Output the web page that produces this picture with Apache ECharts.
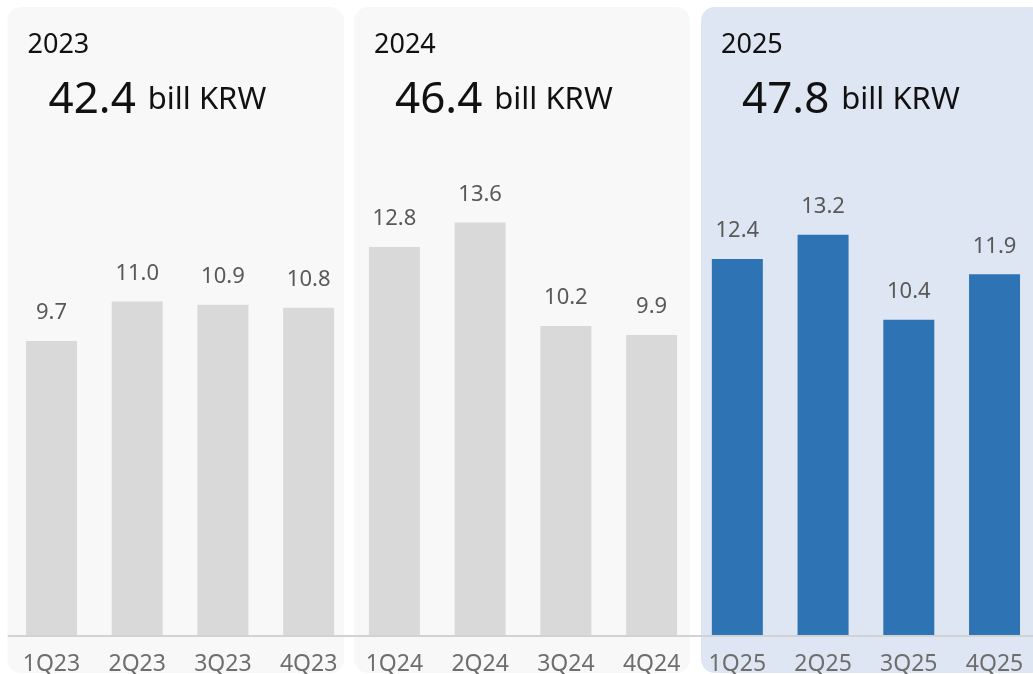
<!DOCTYPE html>
<html>
<head>
<meta charset="utf-8">
<script src="https://cdn.jsdelivr.net/npm/echarts@6/dist/echarts.min.js"></script>
<style>
  html, body { margin: 0; padding: 0; background: #fff; }
  #chart { width: 1033px; height: 674px; }
</style>
</head>
<body>
<div id="chart"></div>
<script>
  // quarterly values, bill KRW
  const quarters = ['1Q23', '2Q23', '3Q23', '4Q23', '1Q24', '2Q24', '3Q24', '4Q24', '1Q25', '2Q25', '3Q25', '4Q25'];
  const values = [9.7, 11.0, 10.9, 10.8, 12.8, 13.6, 10.2, 9.9, 12.4, 13.2, 10.4, 11.9];
  const years = ['2023', '2024', '2025'];
  const yearTotals = ['42.4', '46.4', '47.8'];
  const highlightYear = 2; // index of the highlighted panel

  // panel boxes (left, right) in px
  const panelBoxes = [[7.5, 344], [354, 690], [701, 1045]];

  const grayBar = '#d9d9d9';
  const blueBar = '#2e74b5';
  const font = '"Noto Sans", "Open Sans", sans-serif';

  const chart = echarts.init(document.getElementById('chart'));

  chart.setOption({
    animation: false,
    grid: { left: 8.6, right: -4.4, top: 28, bottom: 38, outerBoundsMode: 'none', containLabel: false },
    xAxis: {
      type: 'category',
      data: quarters,
      z: 5,
      axisLine: { lineStyle: { color: '#d2d2d2', width: 2 } },
      axisTick: { show: false },
      axisLabel: { color: '#6e6e6e', fontSize: 23, fontFamily: font, margin: 17 }
    },
    yAxis: { type: 'value', min: 0, max: 20, show: false, splitLine: { show: false } },
    series: [{
      type: 'bar',
      barWidth: 51,
      data: values.map((v, i) => ({
        value: v,
        itemStyle: { color: Math.floor(i / 4) === highlightYear ? blueBar : grayBar }
      })),
      label: {
        show: true,
        position: 'top',
        distance: 17,
        color: '#595959',
        fontSize: 22,
        fontFamily: font,
        formatter: p => p.value.toFixed(1)
      }
    }]
  });

  // panel backgrounds and headers
  const graphics = [];
  years.forEach((y, k) => {
    const [left, right] = panelBoxes[k];
    graphics.push({
      type: 'rect', z: -10,
      shape: { x: left, y: 7, width: right - left, height: 666, r: 14 },
      style: { fill: k === highlightYear ? '#dfe6f3' : '#f8f8f8' }
    });
    graphics.push({
      type: 'text', z: 10, left: left + 20, top: 32,
      style: { text: y, fontSize: 27, fontFamily: font, fill: '#111' }
    });
    graphics.push({
      type: 'text', z: 10, left: left + 41, top: 78,
      style: {
        text: '{n|' + yearTotals[k] + '}{u|bill KRW}',
        rich: {
          n: { fontSize: 44, fontFamily: font, fill: '#111' },
          u: { fontSize: 31, fontFamily: font, fill: '#111', padding: [0, 0, 0, 12] }
        }
      }
    });
  });
  chart.setOption({ graphic: graphics });
</script>
</body>
</html>
